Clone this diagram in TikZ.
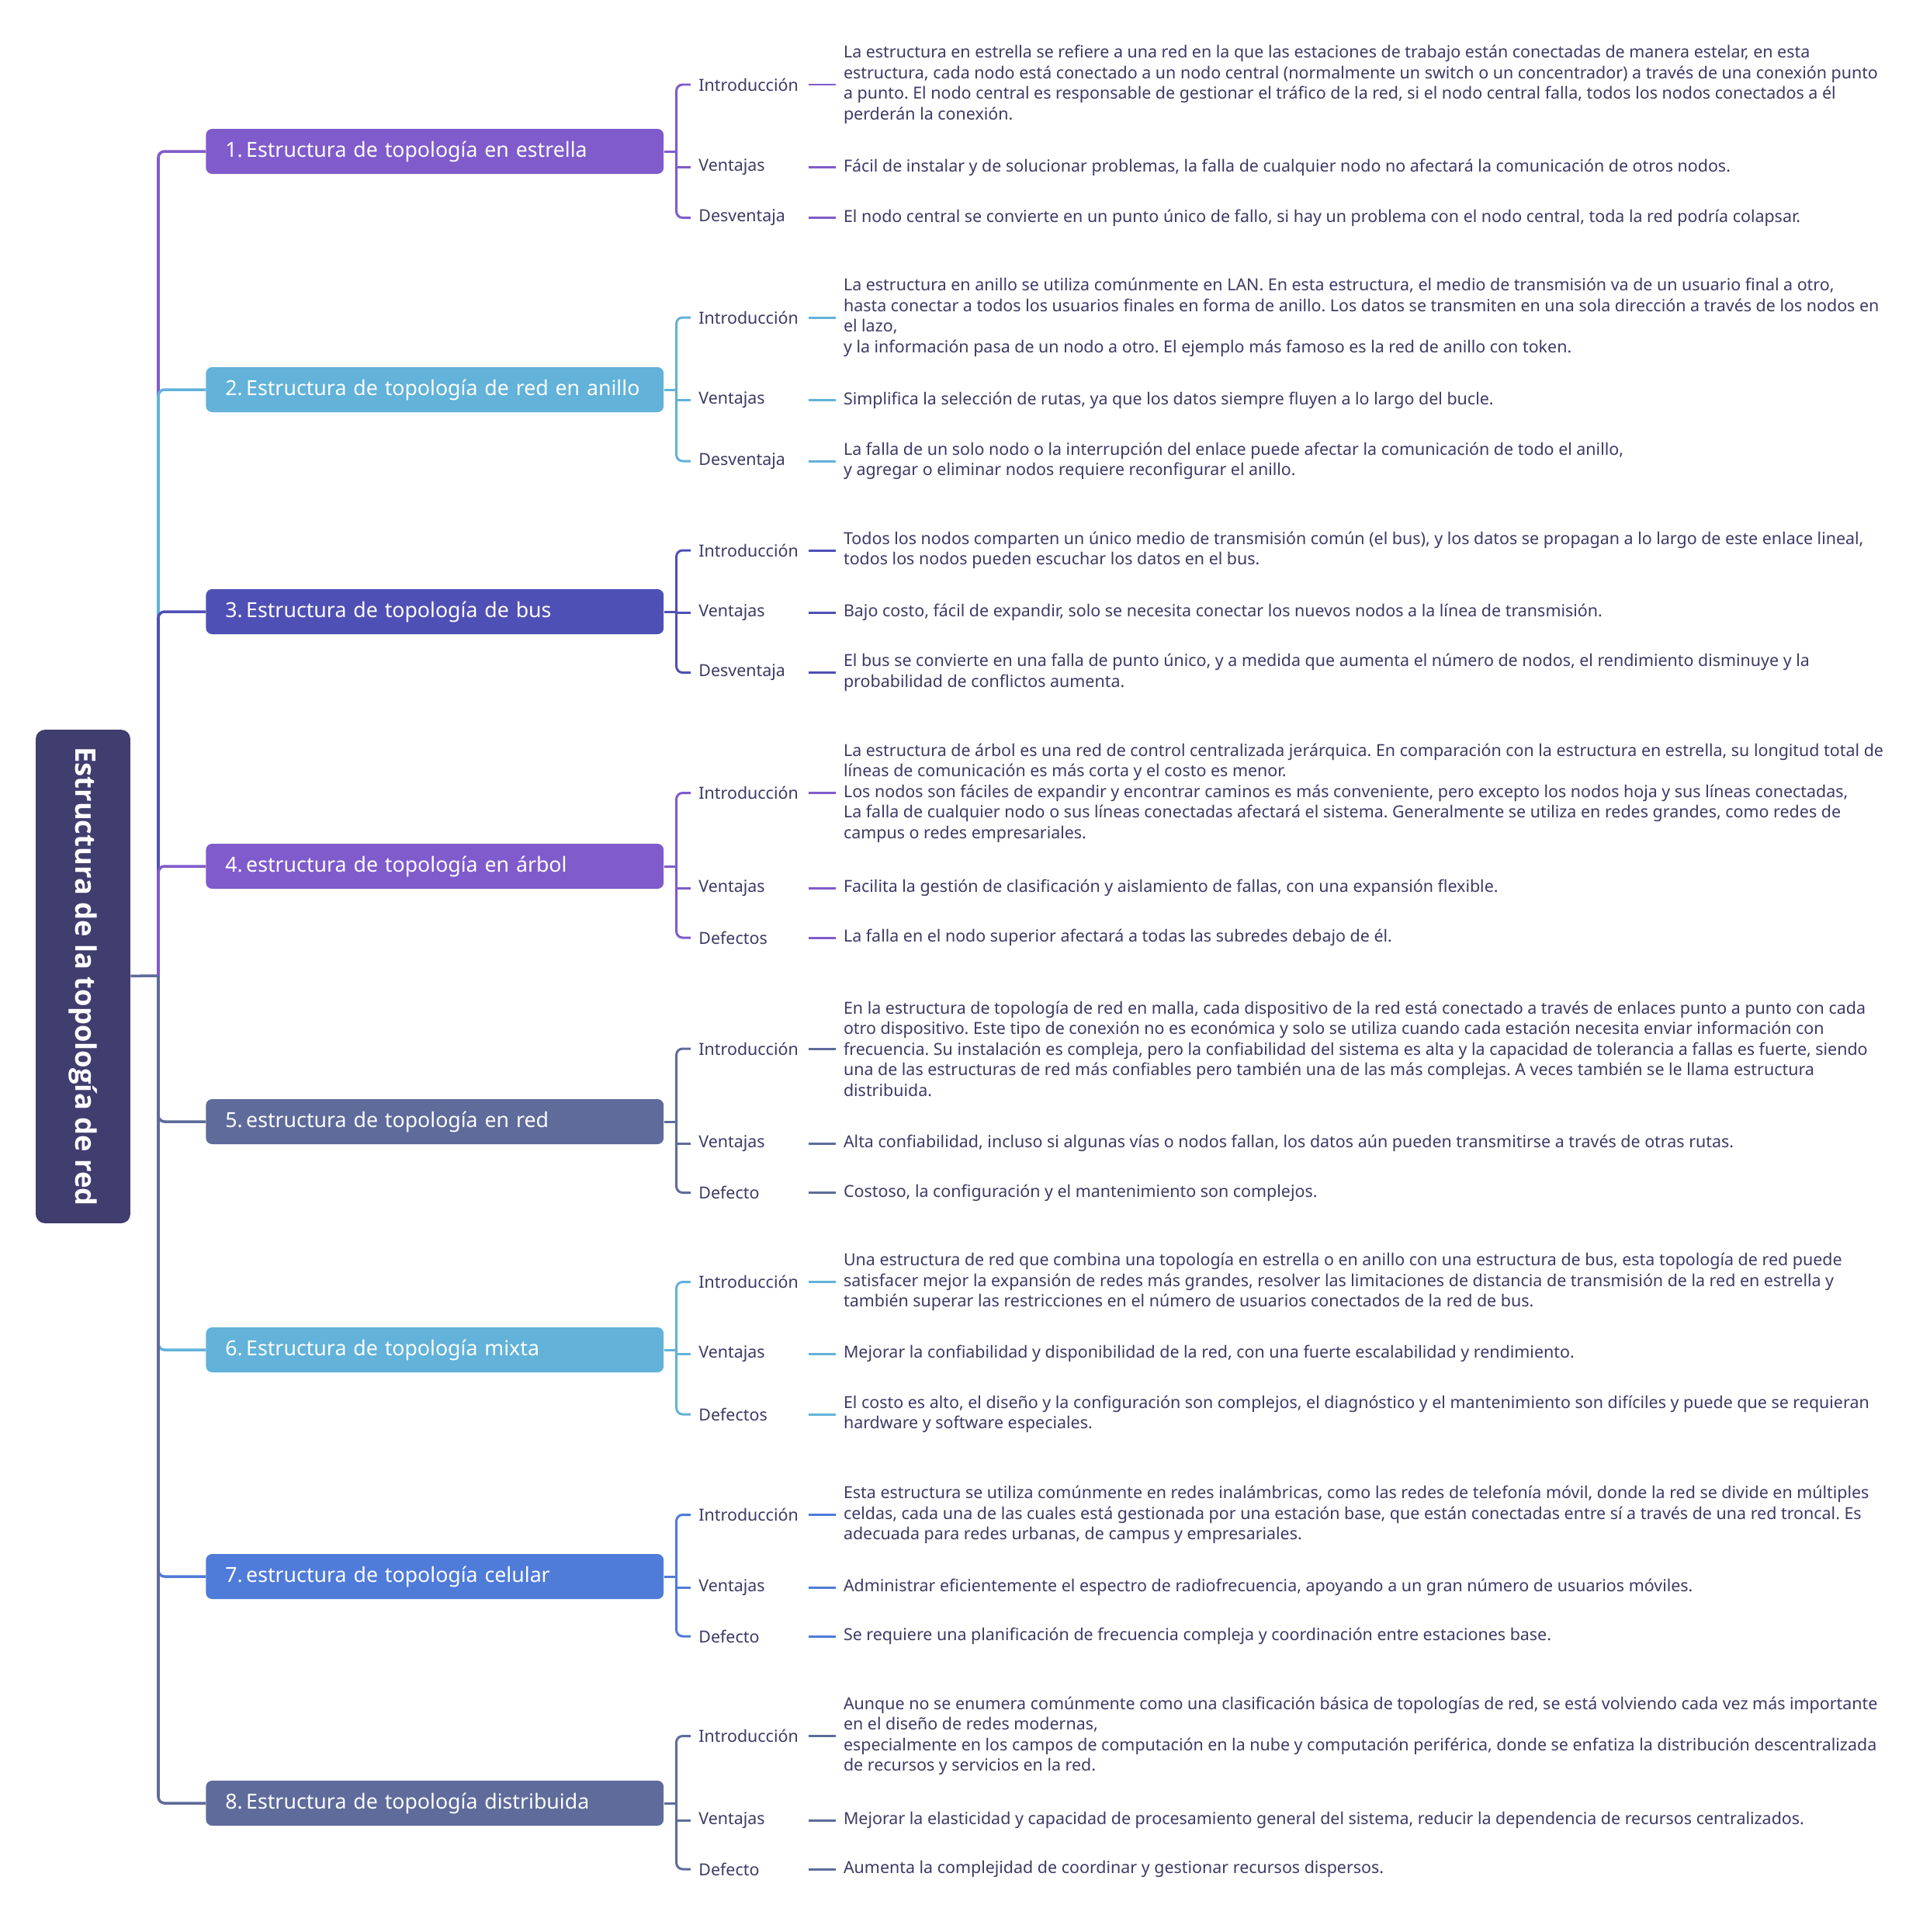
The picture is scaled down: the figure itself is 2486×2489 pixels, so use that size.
\documentclass[tikz,border=0pt]{standalone}
\usepackage{fontspec}
\setmainfont{Noto Sans}
\newfontfamily\rootfont{Open Sans}
\frenchspacing
\definecolor{mmRoot}{RGB}{64, 62, 111}
\definecolor{mmPurple}{RGB}{128, 91, 203}
\definecolor{mmSky}{RGB}{98, 178, 217}
\definecolor{mmIndigo}{RGB}{79, 80, 181}
\definecolor{mmSlate}{RGB}{94, 107, 155}
\definecolor{mmBlue}{RGB}{79, 123, 217}
\definecolor{mmInk}{RGB}{61, 58, 102}
\usepackage{tikz}
\usetikzlibrary{positioning, calc}

\begin{document}
\begin{tikzpicture}[x=0.02cm, y=-0.02cm,
  rootbox/.style={rectangle, rounded corners=0.24cm, fill=mmRoot, text=white, minimum width=2.44cm, minimum height=12.72cm, font=\rootfont\bfseries\fontsize{20.7}{23}\selectfont},
  branchbox/.style={rectangle, rounded corners=0.16cm, text=white, minimum height=1.16cm, inner xsep=0.5cm, text width=10.8cm, align=left, font=\fontsize{15.2}{18}\selectfont},
  leaflab/.style={inner xsep=0.2cm, inner ysep=0pt, text width=2.62cm, align=left, text=mmInk, font=\fontsize{12.2}{15.1}\selectfont},
  leaftext/.style={inner xsep=0.2cm, inner ysep=0pt, align=left, text=mmInk, font=\fontsize{12.2}{15.1}\selectfont},
  trunk/.style={draw=#1, line width=2pt},
  leafline/.style={draw=#1, line width=1.7pt}]
  \path[fill=white, use as bounding box] (0,0) rectangle (2486,2489);

  % root and branches
  \node[rootbox] (root) at (107,1258) {\rotatebox{-90}{Estructura de la topología de red}};
  \foreach \i/\y/\col/\txt in {
    1/195/mmPurple/{1.\,Estructura de topología en estrella},
    2/502/mmSky/{2.\,Estructura de topología de red en anillo},
    3/788/mmIndigo/{3.\,Estructura de topología de bus},
    4/1116/mmPurple/{4.\,estructura de topología en árbol},
    5/1445/mmSlate/{5.\,estructura de topología en red},
    6/1739/mmSky/{6.\,Estructura de topología mixta},
    7/2031/mmBlue/{7.\,estructura de topología celular},
    8/2323/mmSlate/{8.\,Estructura de topología distribuida}%
  } {
    \node[branchbox, fill=\col, anchor=west] (b\i) at (265,\y) {\txt};
  }

  % leaves
  \foreach \b/\j/\y/\col/\lab/\txt in {
    1/1/109/mmPurple/Introducción/{La estructura en estrella se refiere a una red en la que las estaciones de trabajo están conectadas de manera estelar, en esta\\estructura, cada nodo está conectado a un nodo central (normalmente un switch o un concentrador) a través de una conexión punto\\a punto. El nodo central es responsable de gestionar el tráfico de la red, si el nodo central falla, todos los nodos conectados a él\\perderán la conexión.},
    1/2/215.5/mmPurple/Ventajas/{Fácil de instalar y de solucionar problemas, la falla de cualquier nodo no afectará la comunicación de otros nodos.},
    1/3/280.5/mmPurple/Desventaja/{El nodo central se convierte en un punto único de fallo, si hay un problema con el nodo central, toda la red podría colapsar.},
    2/1/409/mmSky/Introducción/{La estructura en anillo se utiliza comúnmente en LAN. En esta estructura, el medio de transmisión va de un usuario final a otro,\\hasta conectar a todos los usuarios finales en forma de anillo. Los datos se transmiten en una sola dirección a través de los nodos en\\el lazo,\\y la información pasa de un nodo a otro. El ejemplo más famoso es la red de anillo con token.},
    2/2/515.5/mmSky/Ventajas/{Simplifica la selección de rutas, ya que los datos siempre fluyen a lo largo del bucle.},
    2/3/594/mmSky/Desventaja/{La falla de un solo nodo o la interrupción del enlace puede afectar la comunicación de todo el anillo,\\y agregar o eliminar nodos requiere reconfigurar el anillo.},
    3/1/709/mmIndigo/Introducción/{Todos los nodos comparten un único medio de transmisión común (el bus), y los datos se propagan a lo largo de este enlace lineal,\\todos los nodos pueden escuchar los datos en el bus.},
    3/2/789/mmIndigo/Ventajas/{Bajo costo, fácil de expandir, solo se necesita conectar los nuevos nodos a la línea de transmisión.},
    3/3/866.5/mmIndigo/Desventaja/{El bus se convierte en una falla de punto único, y a medida que aumenta el número de nodos, el rendimiento disminuye y la\\probabilidad de conflictos aumenta.},
    4/1/1021.5/mmPurple/Introducción/{La estructura de árbol es una red de control centralizada jerárquica. En comparación con la estructura en estrella, su longitud total de\\líneas de comunicación es más corta y el costo es menor.\\Los nodos son fáciles de expandir y encontrar caminos es más conveniente, pero excepto los nodos hoja y sus líneas conectadas,\\La falla de cualquier nodo o sus líneas conectadas afectará el sistema. Generalmente se utiliza en redes grandes, como redes de\\campus o redes empresariales.},
    4/2/1144/mmPurple/Ventajas/{Facilita la gestión de clasificación y aislamiento de fallas, con una expansión flexible.},
    4/3/1208/mmPurple/Defectos/{La falla en el nodo superior afectará a todas las subredes debajo de él.},
    5/1/1351/mmSlate/Introducción/{En la estructura de topología de red en malla, cada dispositivo de la red está conectado a través de enlaces punto a punto con cada\\otro dispositivo. Este tipo de conexión no es económica y solo se utiliza cuando cada estación necesita enviar información con\\frecuencia. Su instalación es compleja, pero la confiabilidad del sistema es alta y la capacidad de tolerancia a fallas es fuerte, siendo\\una de las estructuras de red más confiables pero también una de las más complejas. A veces también se le llama estructura\\distribuida.},
    5/2/1473/mmSlate/Ventajas/{Alta confiabilidad, incluso si algunas vías o nodos fallan, los datos aún pueden transmitirse a través de otras rutas.},
    5/3/1536.5/mmSlate/Defecto/{Costoso, la configuración y el mantenimiento son complejos.},
    6/1/1651.5/mmSky/Introducción/{Una estructura de red que combina una topología en estrella o en anillo con una estructura de bus, esta topología de red puede\\satisfacer mejor la expansión de redes más grandes, resolver las limitaciones de distancia de transmisión de la red en estrella y\\también superar las restricciones en el número de usuarios conectados de la red de bus.},
    6/2/1744/mmSky/Ventajas/{Mejorar la confiabilidad y disponibilidad de la red, con una fuerte escalabilidad y rendimiento.},
    6/3/1822/mmSky/Defectos/{El costo es alto, el diseño y la configuración son complejos, el diagnóstico y el mantenimiento son difíciles y puede que se requieran\\hardware y software especiales.},
    7/1/1951.5/mmBlue/Introducción/{Esta estructura se utiliza comúnmente en redes inalámbricas, como las redes de telefonía móvil, donde la red se divide en múltiples\\celdas, cada una de las cuales está gestionada por una estación base, que están conectadas entre sí a través de una red troncal. Es\\adecuada para redes urbanas, de campus y empresariales.},
    7/2/2045/mmBlue/Ventajas/{Administrar eficientemente el espectro de radiofrecuencia, apoyando a un gran número de usuarios móviles.},
    7/3/2108/mmBlue/Defecto/{Se requiere una planificación de frecuencia compleja y coordinación entre estaciones base.},
    8/1/2236.5/mmSlate/Introducción/{Aunque no se enumera comúnmente como una clasificación básica de topologías de red, se está volviendo cada vez más importante\\en el diseño de redes modernas,\\especialmente en los campos de computación en la nube y computación periférica, donde se enfatiza la distribución descentralizada\\de recursos y servicios en la red.},
    8/2/2345/mmSlate/Ventajas/{Mejorar la elasticidad y capacidad de procesamiento general del sistema, reducir la dependencia de recursos centralizados.},
    8/3/2408/mmSlate/Defecto/{Aumenta la complejidad de coordinar y gestionar recursos dispersos.}%
  } {
    \node[leaflab, anchor=west] (l\b\j) at (890,\y) {\lab};
    \node[leaftext, right=0.7cm of l\b\j] (t\b\j) {\txt};
    \draw[leafline=\col] (l\b\j) -- (t\b\j);
  }

  % trunk from the root
  \coordinate (tj) at (204,1257);
  \draw[trunk=mmSlate] (root) -- (tj);
  \foreach \i/\col in {1/mmPurple, 2/mmSky, 3/mmIndigo, 4/mmPurple, 5/mmSlate, 6/mmSky, 7/mmBlue, 8/mmSlate} {
    \draw[trunk=\col, rounded corners=0.16cm] (tj) |- (b\i.west);
    \coordinate (j\i) at ($(b\i.east)+(16,0)$);
    \draw[leafline=\col] (b\i.east) -- (j\i);
    \draw[leafline=\col, rounded corners=0.16cm] (l\i1.west) -| (j\i |- l\i3.west) -- (l\i3.west);
    \draw[leafline=\col] (j\i |- l\i2.west) -- (l\i2.west);
  }
\end{tikzpicture}
\end{document}
